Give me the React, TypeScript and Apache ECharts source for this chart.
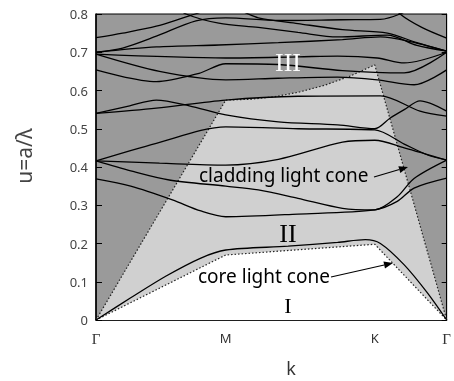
import React, { useEffect, useRef } from "react";
import * as echarts from "echarts";

// Positions along the Brillouin-zone path (normalized path length)
const kTicks = [0, 0.37, 0.795, 1];
const kTickLabels = ["Γ", "M", "K", "Γ"];

// Light lines bounding the regions
const coreCone = [[0, 0], [0.37, 0.17], [0.795, 0.198], [1, 0]];
const claddingCone = [
  [0, 0], [0.37, 0.575], [0.44, 0.577], [0.511, 0.584], [0.58, 0.596],
  [0.653, 0.614], [0.723, 0.637], [0.795, 0.667], [1, 0],
];

// Photonic bands: [k, u]
const band01 = [[0, 0], [0.099, 0.058], [0.2, 0.115], [0.299, 0.162], [0.37, 0.183], [0.548, 0.193], [0.689, 0.203], [0.768, 0.21], [0.811, 0.2], [0.879, 0.144], [0.944, 0.072], [1, 0]];
const band02 = [[0, 0.369], [0.099, 0.35], [0.218, 0.314], [0.299, 0.285], [0.37, 0.27], [0.576, 0.277], [0.795, 0.288], [0.859, 0.31], [0.907, 0.345], [1, 0.371]];
const band03 = [[0, 0.416], [0.099, 0.39], [0.209, 0.366], [0.37, 0.35], [0.463, 0.34], [0.576, 0.318], [0.703, 0.292], [0.795, 0.288], [0.859, 0.322], [0.907, 0.37], [1, 0.418]];
const band04 = [[0, 0.416], [0.181, 0.41], [0.37, 0.405], [0.52, 0.42], [0.703, 0.465], [0.795, 0.47], [0.879, 0.45], [1, 0.418]];
const band05 = [[0, 0.416], [0.172, 0.462], [0.37, 0.505], [0.576, 0.5], [0.795, 0.497], [0.879, 0.46], [0.944, 0.432], [1, 0.418]];
const band06 = [[0, 0.54], [0.096, 0.56], [0.172, 0.575], [0.266, 0.56], [0.37, 0.536], [0.52, 0.518], [0.689, 0.51], [0.795, 0.5], [0.839, 0.528], [0.879, 0.55], [0.924, 0.573], [1, 0.546]];
const band07 = [[0, 0.54], [0.172, 0.554], [0.37, 0.575], [0.576, 0.585], [0.811, 0.586], [0.924, 0.546], [1, 0.533]];
const band08 = [[0, 0.654], [0.172, 0.623], [0.294, 0.645], [0.37, 0.67], [0.52, 0.668], [0.703, 0.652], [0.879, 0.646], [1, 0.7]];
const band09 = [[0, 0.695], [0.37, 0.685], [0.576, 0.688], [0.689, 0.69], [0.802, 0.685], [0.879, 0.672], [1, 0.7]];
const band10 = [[0, 0.695], [0.181, 0.65], [0.37, 0.628], [0.52, 0.632], [0.689, 0.635], [0.802, 0.628], [0.907, 0.615], [1, 0.654]];
const band11 = [[0, 0.7], [0.172, 0.714], [0.35, 0.719], [0.52, 0.725], [0.703, 0.733], [0.811, 0.74], [0.887, 0.73], [1, 0.703]];
const band12 = [[0, 0.738], [0.076, 0.75], [0.172, 0.768], [0.266, 0.795], [0.336, 0.812], [0.393, 0.812], [0.463, 0.79], [0.576, 0.775], [0.703, 0.759], [0.831, 0.75], [0.915, 0.725], [1, 0.703]];
const band13 = [[0, 0.7], [0.076, 0.711], [0.172, 0.742], [0.285, 0.782], [0.37, 0.79], [0.52, 0.783], [0.703, 0.785], [0.811, 0.786], [0.867, 0.8], [0.93, 0.83]];
const band14 = [[0.209, 0.83], [0.257, 0.8], [0.35, 0.776], [0.463, 0.765], [0.576, 0.752], [0.689, 0.74], [0.831, 0.745], [0.915, 0.718], [1, 0.703]];
const band15 = [[0.8, 0.86], [0.867, 0.8], [0.929, 0.765], [1, 0.737]];

const bands = [band01, band02, band03, band04, band05, band06, band07, band08, band09, band10, band11, band12, band13, band14, band15];

const DARK = "#9a9a9a";
const LIGHT = "#d0d0d0";
const SANS = "'Noto Sans', 'Open Sans', sans-serif";
const SERIF = "'Liberation Serif', 'DejaVu Serif', serif";

function arrow(x1: number, y1: number, x2: number, y2: number) {
  const dx = x2 - x1;
  const dy = y2 - y1;
  const len = Math.hypot(dx, dy);
  const ux = dx / len;
  const uy = dy / len;
  const hl = 9;
  const hw = 3.5;
  const bx = x2 - ux * hl;
  const by = y2 - uy * hl;
  return [
    {
      type: "line",
      shape: { x1, y1, x2: bx, y2: by },
      style: { stroke: "#000", lineWidth: 1.2 },
      z: 20,
    },
    {
      type: "polygon",
      shape: {
        points: [
          [x2, y2],
          [bx - uy * hw, by + ux * hw],
          [bx + uy * hw, by - ux * hw],
        ],
      },
      style: { fill: "#000" },
      z: 20,
    },
  ];
}

export default function App() {
  const ref = useRef<HTMLDivElement>(null);

  useEffect(() => {
    if (!ref.current) return;
    const chart = echarts.init(ref.current, undefined, { renderer: "svg" });

    const coneSeries = [
      {
        type: "line",
        data: claddingCone,
        showSymbol: false,
        lineStyle: { color: "#222", width: 1.2, type: [1.5, 2] },
        areaStyle: { color: LIGHT, opacity: 1 },
        z: 1,
        silent: true,
      },
      {
        type: "line",
        data: coreCone,
        showSymbol: false,
        lineStyle: { color: "#222", width: 1.2, type: [1.5, 2] },
        areaStyle: { color: "#ffffff", opacity: 1 },
        z: 2,
        silent: true,
      },
    ];

    const bandSeries = bands.map((b) => ({
      type: "line",
      data: b,
      smooth: 0.3,
      showSymbol: false,
      lineStyle: { color: "#000", width: 1.3 },
      z: 3,
      silent: true,
    }));

    const option: any = {
      animation: false,
      grid: {
        left: 96,
        right: 4,
        top: 14,
        bottom: 61,
        show: true,
        backgroundColor: DARK,
        borderColor: "#000",
        borderWidth: 1,
      },
      xAxis: {
        type: "value",
        min: 0,
        max: 1,
        axisLine: { show: true, onZero: false, lineStyle: { color: "#000", width: 1.5 } },
        axisTick: { show: false },
        splitLine: { show: false },
        axisLabel: {
          customValues: kTicks,
          margin: 11,
          color: "#333",
          fontSize: 13,
          fontFamily: SANS,
          formatter: (v: number) => {
            let idx = 0;
            kTicks.forEach((t, i) => {
              if (Math.abs(t - v) < Math.abs(kTicks[idx] - v)) idx = i;
            });
            const s = kTickLabels[idx];
            return s === "Γ" ? "{g|Γ}" : s;
          },
          rich: { g: { fontFamily: SERIF, fontSize: 15, color: "#333" } },
        },
      },
      yAxis: [
        {
          type: "value",
          min: 0,
          max: 0.8,
          interval: 0.1,
          axisLine: { show: true, lineStyle: { color: "#000", width: 1.5 } },
          axisTick: { show: true, inside: true, length: 6, lineStyle: { color: "#000" } },
          splitLine: { show: false },
          axisLabel: { color: "#444", fontSize: 13, fontFamily: SANS, margin: 8 },
        },
        {
          type: "value",
          position: "right",
          min: 0,
          max: 0.8,
          interval: 0.1,
          axisLine: { show: true, lineStyle: { color: "#000", width: 1 } },
          axisTick: { show: true, inside: true, length: 5, lineStyle: { color: "#000" } },
          splitLine: { show: false },
          axisLabel: { show: false },
        },
      ],
      series: [...coneSeries, ...bandSeries],
      graphic: [
        {
          type: "text",
          x: 288,
          y: 62,
          style: { text: "III", fill: "#fff", font: `26px ${SERIF}`, align: "center", verticalAlign: "middle" },
          z: 20,
        },
        {
          type: "text",
          x: 288,
          y: 233,
          style: { text: "II", fill: "#000", font: `26px ${SERIF}`, align: "center", verticalAlign: "middle" },
          z: 20,
        },
        {
          type: "text",
          x: 288,
          y: 305,
          style: { text: "I", fill: "#000", font: `22px ${SERIF}`, align: "center", verticalAlign: "middle" },
          z: 20,
        },
        {
          type: "text",
          x: 199,
          y: 175,
          style: { text: "cladding light cone", fill: "#000", font: `19px ${SANS}`, align: "left", verticalAlign: "middle" },
          z: 20,
        },
        {
          type: "text",
          x: 198,
          y: 276,
          style: { text: "core light cone", fill: "#000", font: `19px ${SANS}`, align: "left", verticalAlign: "middle" },
          z: 20,
        },
        ...arrow(374, 177, 408, 167),
        ...arrow(331, 277, 393, 263),
        {
          type: "text",
          x: 291,
          y: 368,
          style: { text: "k", fill: "#333", font: `18px ${SANS}`, align: "center", verticalAlign: "middle" },
          z: 20,
        },
        {
          type: "text",
          x: 24,
          y: 156,
          rotation: Math.PI / 2,
          style: { text: "u=a/λ", fill: "#444", font: `21px ${SANS}`, align: "center", verticalAlign: "middle" },
          z: 20,
        },
      ],
    };

    chart.setOption(option);
    return () => chart.dispose();
  }, []);

  return (
    <div
      ref={ref}
      style={{ position: "fixed", left: 0, top: 0, width: 454, height: 381 }}
    />
  );
}
